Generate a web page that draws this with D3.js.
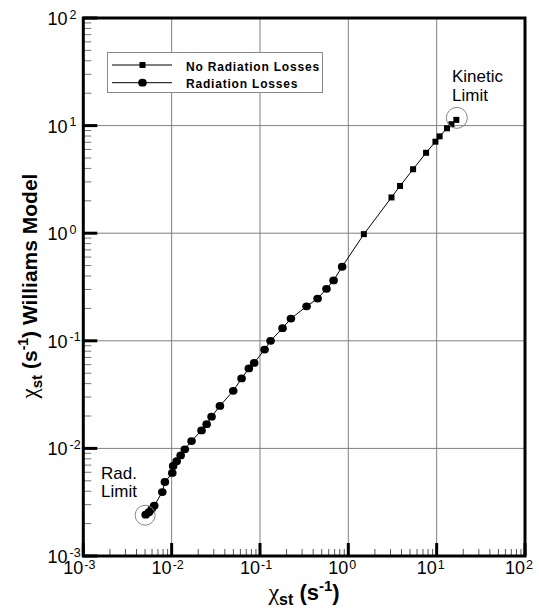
<!DOCTYPE html>
<html lang="en">
<head>
<meta charset="utf-8">
<title>Williams model vs chi_st</title>
<script src="https://cdn.jsdelivr.net/npm/d3@7"></script>
<style>
  body { margin: 0; background: #fff; }
  text { font-family: "Liberation Sans", Arial, sans-serif; fill: #000; }
</style>
</head>
<body>
<script>
// Radiation Losses (circles): chi_st, Williams model chi_st
var radX = [0.00508, 0.00553, 0.00594, 0.00635, 0.00784, 0.00839, 0.01017, 0.0104, 0.0114, 0.01265,
            0.0141, 0.0168, 0.0218, 0.0249, 0.0283, 0.0352, 0.0498, 0.0619, 0.0748, 0.0859,
            0.1127, 0.1318, 0.180, 0.224, 0.337, 0.449, 0.566, 0.681, 0.851];
var radY = [0.00242, 0.00255, 0.00273, 0.00293, 0.00393, 0.00487, 0.00592, 0.00688, 0.0076, 0.0086,
            0.0098, 0.0117, 0.0147, 0.0168, 0.0197, 0.0248, 0.0343, 0.0447, 0.0554, 0.0623,
            0.0829, 0.100, 0.131, 0.161, 0.209, 0.247, 0.304, 0.364, 0.488];
// No Radiation Losses (squares)
var noRadX = [1.50, 3.08, 3.85, 5.41, 7.59, 9.69, 10.8, 13.1, 14.7, 16.7];
var noRadY = [0.98, 2.15, 2.75, 3.93, 5.59, 7.09, 7.94, 9.44, 10.3, 11.3];

var decades = [-3, -2, -1, 0, 1, 2];
var seriesNames = ["No Radiation Losses", "Radiation Losses"];

var W = 539, H = 610;
var svg = d3.select("body").append("svg").attr("width", W).attr("height", H);

var x = d3.scaleLog().domain([1e-3, 1e2]).range([83.3, 525]);
var y = d3.scaleLog().domain([1e-3, 1e2]).range([556, 18]);

var rad = radX.map(function(v, i) { return [v, radY[i]]; });
var noRad = noRadX.map(function(v, i) { return [v, noRadY[i]]; });

// grid
var g = svg.append("g");
decades.forEach(function(d) {
  var v = Math.pow(10, d);
  g.append("line").attr("x1", x(v)).attr("x2", x(v)).attr("y1", y(1e-3)).attr("y2", y(1e2))
    .attr("stroke", "#808080").attr("stroke-width", 1);
  g.append("line").attr("x1", x(1e-3)).attr("x2", x(1e2)).attr("y1", y(v)).attr("y2", y(v))
    .attr("stroke", "#808080").attr("stroke-width", 1);
});

// minor + major ticks (inside, left and bottom only)
var minors = [];
for (var d = -3; d < 2; d++) for (var k = 2; k <= 9; k++) minors.push(k * Math.pow(10, d));
var t = svg.append("g");
minors.forEach(function(v) {
  t.append("line").attr("x1", x(1e-3)).attr("x2", x(1e-3) + 8).attr("y1", y(v)).attr("y2", y(v))
    .attr("stroke", "#777").attr("stroke-width", 1);
  t.append("line").attr("x1", x(v)).attr("x2", x(v)).attr("y1", y(1e-3)).attr("y2", y(1e-3) - 7)
    .attr("stroke", "#555").attr("stroke-width", 1);
});
decades.forEach(function(d) {
  var v = Math.pow(10, d);
  t.append("line").attr("x1", x(1e-3)).attr("x2", x(1e-3) + 14).attr("y1", y(v)).attr("y2", y(v))
    .attr("stroke", "#000").attr("stroke-width", 3);
  t.append("line").attr("x1", x(v)).attr("x2", x(v)).attr("y1", y(1e-3)).attr("y2", y(1e-3) - 13)
    .attr("stroke", "#000").attr("stroke-width", 3);
});

// frame
svg.append("rect").attr("x", x(1e-3)).attr("y", y(1e2))
  .attr("width", x(1e2) - x(1e-3)).attr("height", y(1e-3) - y(1e2))
  .attr("fill", "none").attr("stroke", "#000").attr("stroke-width", 3);

// tick labels
var lab = svg.append("g");
decades.forEach(function(d) {
  var v = Math.pow(10, d);
  // x axis
  lab.append("text").attr("x", x(v)).attr("y", 573.5).attr("text-anchor", "end")
    .style("font-size", "18px").text("10");
  lab.append("text").attr("x", x(v) + 1).attr("y", 569).attr("text-anchor", "start")
    .style("font-size", "12.5px").text(d);
  // y axis
  lab.append("text").attr("x", 67.5).attr("y", y(v) + 7).attr("text-anchor", "end")
    .style("font-size", "18px").text("10");
  lab.append("text").attr("x", 69.5).attr("y", y(v) + 0.5).attr("text-anchor", "start")
    .style("font-size", "12.5px").text(d);
});

// axis titles
function title(sel, fs) {
  sel.append("tspan").style("font-family", "'Liberation Serif', serif").style("font-size", (fs + 2) + "px").text("\u03c7");
  sel.append("tspan").attr("dy", 5).style("font-size", (fs - 6) + "px").style("font-weight", "bold").text("st");
  sel.append("tspan").attr("dy", -5).style("font-size", fs + "px").style("font-weight", "bold").text(" (s");
  sel.append("tspan").attr("dy", -9).style("font-size", (fs - 7) + "px").style("font-weight", "bold").text("-1");
  sel.append("tspan").attr("dy", 9).style("font-size", fs + "px").style("font-weight", "bold").text(")");
}
var xt = svg.append("text").attr("x", 304).attr("y", 600).attr("text-anchor", "middle");
title(xt, 22);
var yt = svg.append("text").attr("transform", "translate(37,286) rotate(-90)").attr("text-anchor", "middle");
title(yt, 21);
yt.append("tspan").style("font-size", "21px").style("font-weight", "bold").text(" Williams Model");

// curve
var line = d3.line().x(function(p) { return x(p[0]); }).y(function(p) { return y(p[1]); });
svg.append("path").datum(rad.concat(noRad)).attr("d", line)
  .attr("fill", "none").attr("stroke", "#000").attr("stroke-width", 1);

svg.append("g").selectAll("ellipse").data(rad).enter().append("ellipse")
  .attr("cx", function(p) { return x(p[0]); }).attr("cy", function(p) { return y(p[1]); })
  .attr("rx", 4.3).attr("ry", 3.9).attr("fill", "#000");
svg.append("g").selectAll("rect").data(noRad).enter().append("rect")
  .attr("x", function(p) { return x(p[0]) - 3; }).attr("y", function(p) { return y(p[1]) - 3; })
  .attr("width", 6).attr("height", 6).attr("fill", "#000");

// annotations
var first = rad[0], last = noRad[noRad.length - 1];
svg.append("circle").attr("cx", x(first[0]) - 0.5).attr("cy", y(first[1]) + 0.5).attr("r", 10)
  .attr("fill", "none").attr("stroke", "#888").attr("stroke-width", 1);
svg.append("circle").attr("cx", x(last[0]) + 0.5).attr("cy", y(last[1]) - 2).attr("r", 10.5)
  .attr("fill", "none").attr("stroke", "#888").attr("stroke-width", 1);
svg.append("text").attr("x", 452).attr("y", 82).style("font-size", "17px").text("Kinetic");
svg.append("text").attr("x", 452).attr("y", 101).style("font-size", "17px").text("Limit");
svg.append("text").attr("x", 101).attr("y", 479).style("font-size", "17px").text("Rad.");
svg.append("text").attr("x", 101).attr("y", 497).style("font-size", "17px").text("Limit");

// legend
var lg = svg.append("g");
lg.append("rect").attr("x", 107.5).attr("y", 52.5).attr("width", 215).attr("height", 40)
  .attr("fill", "#fff").attr("stroke", "#888").attr("stroke-width", 1);
[65, 82.7].forEach(function(ly, i) {
  lg.append("line").attr("x1", 112).attr("x2", 172).attr("y1", ly).attr("y2", ly)
    .attr("stroke", "#000").attr("stroke-width", 1);
  if (i === 0) lg.append("rect").attr("x", 139.5).attr("y", ly - 3).attr("width", 6).attr("height", 6).attr("fill", "#000");
  else lg.append("ellipse").attr("cx", 142.5).attr("cy", ly).attr("rx", 4.3).attr("ry", 3.9).attr("fill", "#000");
  lg.append("text").attr("x", 186).attr("y", ly + 5.5).style("font-size", "12px")
    .style("font-weight", "bold").style("letter-spacing", "0.8px").text(seriesNames[i]);
});
</script>
</body>
</html>
